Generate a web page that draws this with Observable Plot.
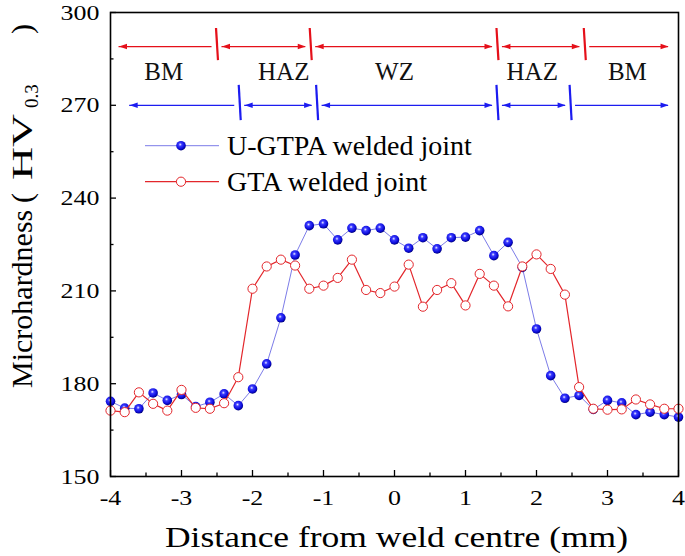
<!DOCTYPE html>
<html><head><meta charset="utf-8">
<script src="https://cdn.jsdelivr.net/npm/d3@7"></script>
<script src="https://cdn.jsdelivr.net/npm/@observablehq/plot@0.6"></script>
<style>
body{margin:0;background:#fff;}
#wrap{position:relative;width:685px;height:556px;}
</style></head><body><div id="wrap"></div>
<script>
// ---- data ----
const distance = [-4.0,-3.8,-3.6,-3.4,-3.2,-3.0,-2.8,-2.6,-2.4,-2.2,-2.0,-1.8,-1.6,-1.4,-1.2,-1.0,-0.8,-0.6,-0.4,-0.2,0.0,0.2,0.4,0.6,0.8,1.0,1.2,1.4,1.6,1.8,2.0,2.2,2.4,2.6,2.8,3.0,3.2,3.4,3.6,3.8,4.0];
const ugtpa = [174.3,172.1,171.9,177.0,174.6,176.5,172.6,174.0,176.7,172.9,178.3,186.4,201.3,221.6,231.1,231.7,226.5,230.3,229.5,230.3,226.5,223.8,227.2,223.6,227.2,227.4,229.5,221.4,225.7,217.6,197.7,182.6,175.3,176.2,171.7,174.6,173.8,170.0,170.8,170.0,169.2];
const gta = [171.3,170.8,177.2,173.5,171.3,178.0,172.2,171.9,173.7,182.1,210.7,217.9,220.1,218.2,210.7,211.7,214.2,220.1,210.3,209.3,211.4,218.5,204.9,210.3,212.5,205.3,215.5,211.7,205.0,217.9,221.8,217.1,208.8,178.9,171.9,171.6,171.7,174.9,173.3,171.9,171.9];
const seriesNames = ["U-GTPA welded joint", "GTA welded joint"];
const xTicks = [-4,-3,-2,-1,0,1,2,3,4];
const xMinorTicks = [-3.5,-2.5,-1.5,-0.5,0.5,1.5,2.5,3.5];
const yTicks = [150,180,210,240,270,300];
const yMinorTicks = [165,195,225,255,285];
const zoneLabels = ["BM","HAZ","WZ","HAZ","BM"];
const zoneLabelX = [-3.25,-1.56,0.0,1.94,3.28];
const zoneLabelLevel = 280.7;
const gtaBounds = [-2.5,-1.18,1.45,2.68];
const gtaExtent = [-3.88,3.86];
const gtaZoneLevel = 289;
const ugtpaBounds = [-2.18,-1.09,1.45,2.48];
const ugtpaExtent = [-3.73,3.86];
const ugtpaZoneLevel = 270;

// ---- styles ----
const RED = "#e3262b", RED_DARK = "#e5101a", BLUE_LINE = "#7c7ce8", BLUE_DARK = "#1c1cf0";
const W = 685, H = 556, ML = 110, MR = 7, MT = 12, MB = 80;
const PW = W - ML - MR, PH = H - MT - MB;

const uRows = distance.map((x, i) => ({x, hv: ugtpa[i]}));
const gRows = distance.map((x, i) => ({x, hv: gta[i]}));

function zoneSegments(bounds, extent, level, gap) {
  const edges = [extent[0], ...bounds, extent[1]];
  const segs = [], heads = [];
  const n = edges.length - 1;
  for (let i = 0; i < n; i++) {
    const x1 = i === 0 ? edges[0] : edges[i] + gap;
    const x2 = i === n - 1 ? edges[n] : edges[i + 1] - gap;
    segs.push({x1, x2, y: level});
    if (i !== n - 1) heads.push({x: x1, y: level, rot: 180});
    if (i !== 0) heads.push({x: x2, y: level, rot: 0});
  }
  return {segs, heads};
}
const gZ = zoneSegments(gtaBounds, gtaExtent, gtaZoneLevel, 0.07);
const uZ = zoneSegments(ugtpaBounds, ugtpaExtent, ugtpaZoneLevel, 0.07);
const gBars = gtaBounds.map(b => ({x1: b - 0.014, x2: b + 0.014, y1: gtaZoneLevel + 6, y2: gtaZoneLevel - 4.4}));
const uBars = ugtpaBounds.map(b => ({x1: b - 0.014, x2: b + 0.014, y1: ugtpaZoneLevel + 6.6, y2: ugtpaZoneLevel - 4.8}));

const headSymbol = {draw(ctx) { ctx.moveTo(0, 0); ctx.lineTo(-8, -2.7); ctx.lineTo(-8, 2.7); ctx.closePath(); }};

const chart = Plot.plot({
  width: W, height: H,
  marginLeft: ML, marginRight: MR, marginTop: MT, marginBottom: MB,
  style: {fontFamily: "Liberation Serif", background: "white", color: "black", overflow: "visible"},
  x: {domain: [-4, 4]},
  y: {domain: [150, 300]},
  marks: [
    // zone annotations
    Plot.ruleY(gZ.segs, {x1: "x1", x2: "x2", y: "y", stroke: RED_DARK, strokeWidth: 1.2}),
    Plot.dot(gZ.heads, {x: "x", y: "y", rotate: "rot", symbol: headSymbol, fill: RED_DARK, stroke: "none"}),
    Plot.link(gBars, {x1: "x1", x2: "x2", y1: "y1", y2: "y2", stroke: RED_DARK, strokeWidth: 2.2}),
    Plot.ruleY(uZ.segs, {x1: "x1", x2: "x2", y: "y", stroke: BLUE_DARK, strokeWidth: 1.2}),
    Plot.dot(uZ.heads, {x: "x", y: "y", rotate: "rot", symbol: headSymbol, fill: BLUE_DARK, stroke: "none"}),
    Plot.link(uBars, {x1: "x1", x2: "x2", y1: "y1", y2: "y2", stroke: BLUE_DARK, strokeWidth: 2.2}),
    Plot.text(zoneLabels.map((t, i) => ({t, x: zoneLabelX[i]})), {x: "x", y: zoneLabelLevel, text: "t", fontSize: 25, fill: "#111", lineAnchor: "middle"}),
    // series
    Plot.line(uRows, {x: "x", y: "hv", stroke: BLUE_LINE, strokeWidth: 1}),
    Plot.dot(uRows, {x: "x", y: "hv", r: 4.8, fill: "url(#ball)", stroke: "none"}),
    Plot.line(gRows, {x: "x", y: "hv", stroke: RED, strokeWidth: 1.2}),
    Plot.dot(gRows, {x: "x", y: "hv", r: 4.6, fill: "white", stroke: RED, strokeWidth: 1}),
    // axes
    Plot.ruleX(xTicks, {x: d => d, insetTop: PH - 6, stroke: "black", strokeWidth: 1.3}),
    Plot.ruleX(xMinorTicks, {x: d => d, insetTop: PH - 3.5, stroke: "black", strokeWidth: 1.3}),
    Plot.ruleY(yTicks, {y: d => d, insetRight: PW - 6, stroke: "black", strokeWidth: 1.3}),
    Plot.ruleY(yMinorTicks, {y: d => d, insetRight: PW - 3.5, stroke: "black", strokeWidth: 1.3}),
    Plot.axisX({ticks: xTicks, tickSize: 0, tickPadding: 13, fontSize: 22, tickFormat: d => String(d), label: null}),
    Plot.axisY({ticks: yTicks, tickSize: 0, tickPadding: 11, fontSize: 22, tickFormat: d => String(d), label: null}),
    Plot.frame({stroke: "black", strokeWidth: 1.6})
  ]
});
document.getElementById("wrap").appendChild(chart);

const svg = d3.select(chart);
svg.insert("defs", ":first-child").html(
  '<radialGradient id="ball" cx="0.42" cy="0.38" r="0.62">' +
  '<stop offset="0" stop-color="#f0f0ff"/><stop offset="0.28" stop-color="#3a3aff"/>' +
  '<stop offset="0.75" stop-color="#0a0ad8"/><stop offset="1" stop-color="#00007a"/></radialGradient>');

function stretch(sel, k) {
  sel.each(function () {
    const L = this.getComputedTextLength();
    this.setAttribute("textLength", (L * k).toFixed(1));
    this.setAttribute("lengthAdjust", "spacingAndGlyphs");
  });
}
stretch(svg.selectAll('g[aria-label="x-axis tick label"] text'), 1.18);
stretch(svg.selectAll('g[aria-label="y-axis tick label"] text'), 1.18);

// x title
svg.append("text")
  .attr("x", 396.5).attr("y", 547).attr("text-anchor", "middle")
  .attr("font-family", "Liberation Serif").attr("font-size", 30).attr("fill", "black")
  .attr("textLength", 463).attr("lengthAdjust", "spacingAndGlyphs")
  .text("Distance from weld centre (mm)");

// y title with subscript
const yt = svg.append("text")
  .attr("transform", "translate(31.5,388) rotate(-90)")
  .attr("text-anchor", "start")
  .attr("font-family", "Liberation Serif").attr("font-size", 30).attr("fill", "black");
yt.append("tspan").attr("x", 0).text("Microhardness");
yt.append("tspan").attr("x", 185).text("(");
yt.append("tspan").attr("x", 208).attr("textLength", 66).attr("lengthAdjust", "spacingAndGlyphs").text("HV");
yt.append("tspan").attr("x", 280).attr("dy", 6).attr("font-size", 19).text("0.3");
yt.append("tspan").attr("x", 354).attr("dy", -6).text(")");

// legend
const lg = svg.append("g").attr("font-family", "Liberation Serif").attr("font-size", 28).attr("text-anchor", "start");
const legendRows = [
  {name: seriesNames[0], cy: 145.7, stroke: BLUE_LINE, sw: 1, fill: "url(#ball)", mstroke: "none", r: 4.8},
  {name: seriesNames[1], cy: 181.7, stroke: RED, sw: 1.2, fill: "white", mstroke: RED, r: 4.6}
];
legendRows.forEach(d => {
  lg.append("line").attr("x1", 145).attr("x2", 219).attr("y1", d.cy).attr("y2", d.cy).attr("stroke", d.stroke).attr("stroke-width", d.sw);
  lg.append("circle").attr("cx", 181).attr("cy", d.cy).attr("r", d.r).attr("fill", d.fill).attr("stroke", d.mstroke);
  lg.append("text").attr("x", 227).attr("y", d.cy + 9.5).attr("fill", "black").text(d.name);
});
</script>
</body></html>
